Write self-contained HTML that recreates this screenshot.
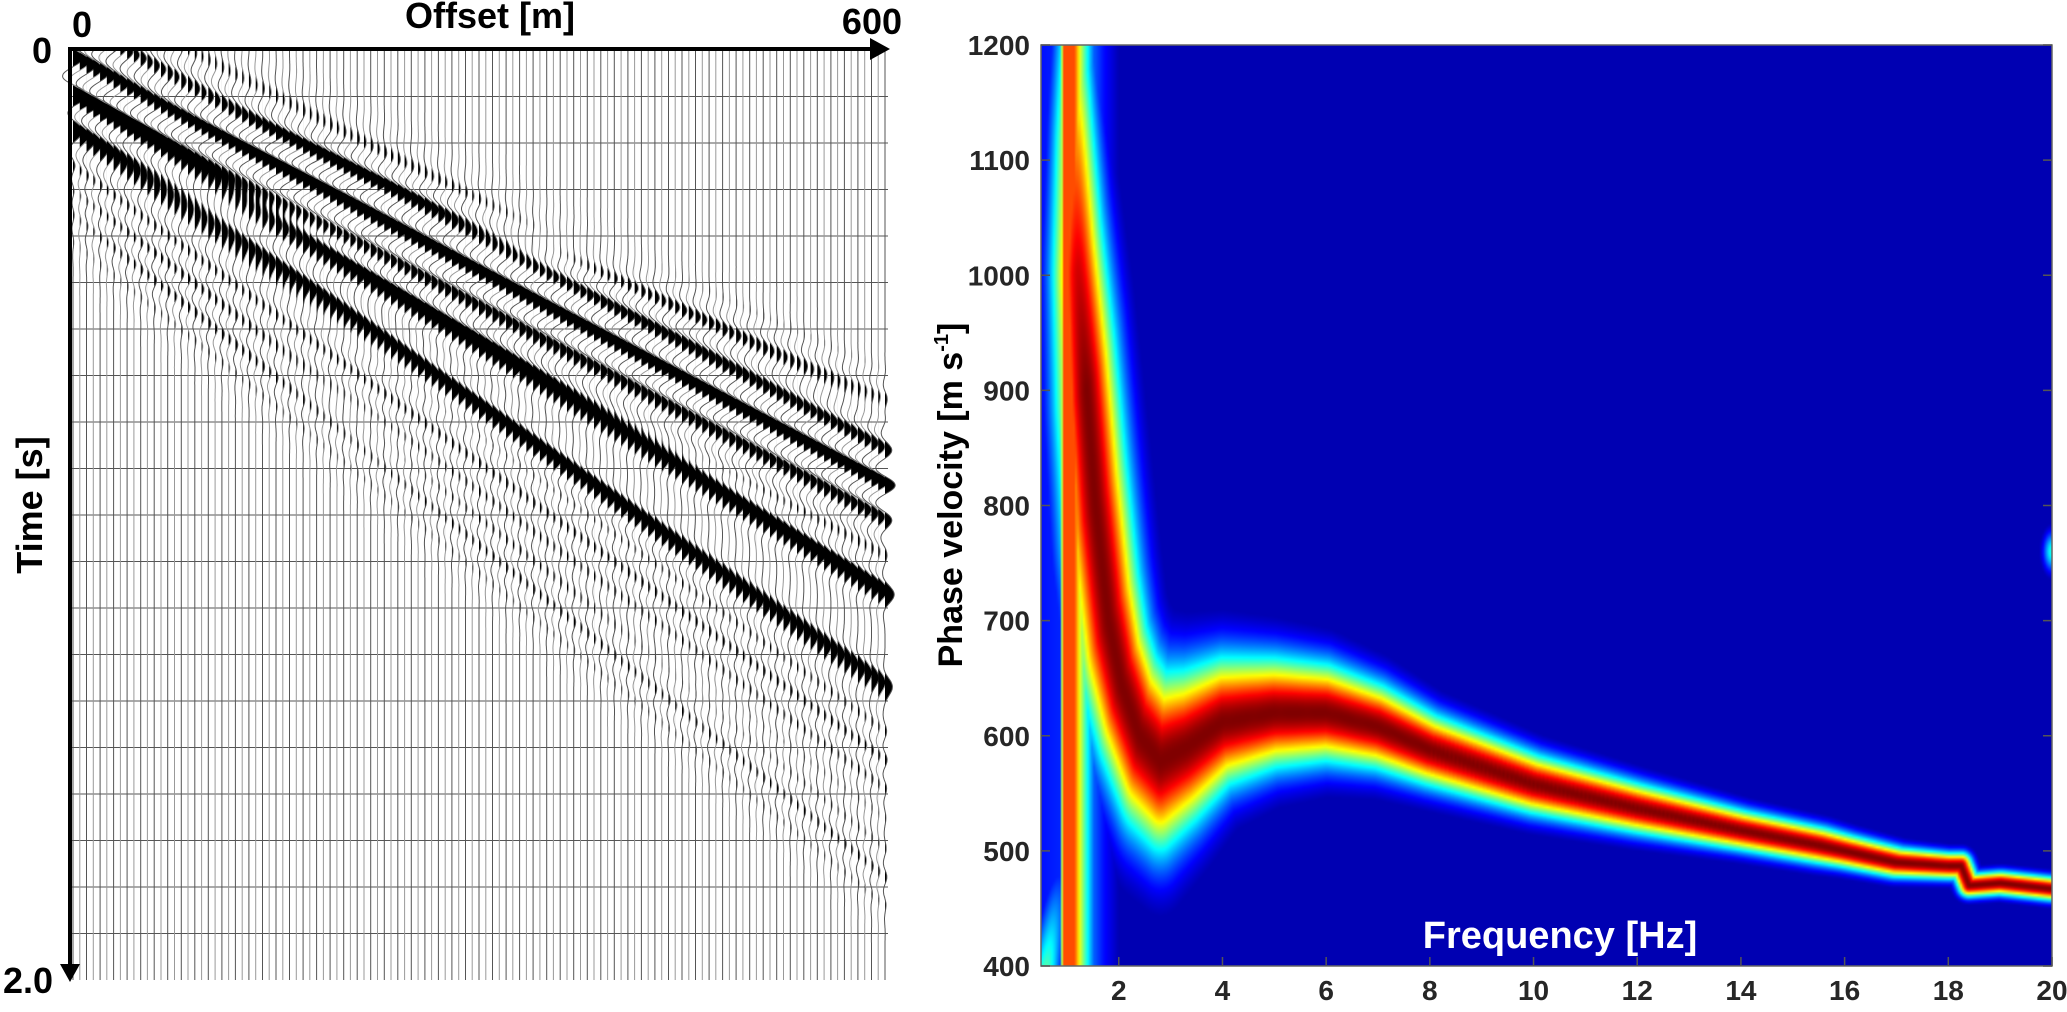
<!DOCTYPE html>
<html><head><meta charset="utf-8">
<style>
html,body{margin:0;padding:0;background:#fff;}
body{width:2067px;height:1012px;position:relative;overflow:hidden;font-family:"Liberation Sans",Arial,sans-serif;}
svg{position:absolute;left:0;top:0;}
canvas{position:absolute;}
</style></head>
<body>
<svg id="seis" width="2067" height="1012" viewBox="0 0 2067 1012"></svg>
<canvas id="disp" width="506" height="461" style="left:1041px;top:45px;width:1011px;height:921px;"></canvas>
<svg id="axes2" width="2067" height="1012" viewBox="0 0 2067 1012"></svg>
<script>
// ---------- Seismogram data ----------
const offsets = []; for (let i = 0; i <= 120; i++) offsets.push(i * 5);
const eventT0   = [0.00, 0.02, 0.10, 0.17, 0.25, 0.35];
const eventVel  = [800, 655, 560, 500, 470, 420];
const eventAmp  = [0.5, 1.7, 1.5, 1.3, 0.35, 0.3];
const eventSig  = [0.05, 0.12, 0.04, 0.04, 0.12, 0.08];
const eventFreq = [14, 13, 8, 8, 16, 16];
const timeTicks = ["0", "2.0"];
const offsetTicks = ["0", "600"];

// ---------- Dispersion data ----------
const freqTicks = [2,4,6,8,10,12,14,16,18,20];
const velTicks = [400,500,600,700,800,900,1000,1100,1200];
const ridgeFreq = [1.12, 1.15, 1.22, 1.38, 1.55, 1.8, 2.05, 2.4, 2.8, 3.3, 4.0, 5.0, 6.0, 7.0, 8.0, 10, 12, 14, 15.5, 16, 17, 18, 18.25, 18.4, 19, 20];
const ridgeVel  = [1200, 1100, 1000, 900, 800, 700, 645, 600, 578, 590, 612, 620, 620, 608, 588, 558, 537, 518, 505, 500, 490, 487, 487, 470, 472, 467];
const ridgeSigV = [80, 80, 80, 80, 80, 70, 60, 58, 55, 48, 40, 34, 30, 26, 22, 18, 15, 12, 11, 10, 9, 8, 8, 7, 7, 7];
const ridgeSigF = [0.25, 0.3, 0.36, 0.42, 0.45, 0.45, 0.42, 0.4, 0.4, 0.4, 0.35, 0.3, 0.3, 0.3, 0.3, 0.3, 0.3, 0.3, 0.3, 0.3, 0.3, 0.2, 0.15, 0.15, 0.3, 0.3];
const ridgeAmp  = [0.5, 0.75, 0.92, 1, 1, 1, 1, 1, 1, 1, 1, 1, 1, 1, 1, 1, 1, 1, 1, 1, 1, 1, 1, 1, 1, 1];
const stripeFreq = [0.5, 0.88, 0.92, 1.15, 1.25, 1.38, 1.52, 1.7, 2.0];
const stripeVal  = [0.14, 0.16, 0.8, 0.8, 0.6, 0.4, 0.22, 0.14, 0.05];

const NS = "http://www.w3.org/2000/svg";
function mk(tag, attrs, parent){ const e = document.createElementNS(NS, tag); for (const k in attrs) e.setAttribute(k, attrs[k]); parent.appendChild(e); return e; }

// ---------- Left panel ----------
const seis = document.getElementById('seis');
const LX0 = 73, LX1 = 885, LY0 = 50, LY1 = 980, TMAX = 2.0, XMAX = 600;
const xS = o => LX0 + (o / XMAX) * (LX1 - LX0);
const yS = t => LY0 + (t / TMAX) * (LY1 - LY0);

for (let k = 1; k < 20; k++) {
  const g = mk('line', {x1:70, x2:888, y1:yS(k*0.1), y2:yS(k*0.1), stroke:'#555', 'stroke-width':1}, seis);
  
  
}
function sig(o, t){
  let s = 0;
  for (let k = 0; k < eventT0.length; k++) {
    const tau = t - (eventT0[k] + o / eventVel[k]);
    const z = tau / eventSig[k];
    if (Math.abs(z) > 4) continue;
    s += eventAmp[k] * Math.exp(-z*z) * Math.cos(2*Math.PI*eventFreq[k]*tau);
  }
  return s;
}
const GAIN = 6, CLIP = 12;
offsets.forEach((o, i) => {
  const bx = xS(o);
  let line = '', fill = '';
  for (let y = LY0; y <= LY1; y += 1) {
    const t = (y - LY0) / (LY1 - LY0) * TMAX;
    let d = sig(o, t) * GAIN; d = Math.max(-CLIP, Math.min(CLIP, d));
    line += (y === LY0 ? 'M' : 'L') + (bx + d).toFixed(1) + ' ' + y + ' ';
    fill += (y === LY0 ? 'M' + bx + ' ' + y + ' L' : 'L') + (bx + Math.max(0, d)).toFixed(1) + ' ' + y + ' ';
  }
  fill += 'L' + bx + ' ' + LY1 + ' Z';
  const f = mk('path', {d: fill, fill: '#000', stroke: 'none'}, seis);
  
  
  const l = mk('path', {d: line, fill: 'none', stroke: i % 2 ? '#999' : '#555', 'stroke-width': 1}, seis);
  
  
});
const ax1 = mk('line', {x1:68, y1:49, x2:872, y2:49, stroke:'#000', 'stroke-width':4}, seis);


const ar1 = mk('polygon', {points:'870,38 890,49 870,60', fill:'#000'}, seis);


const ax2 = mk('line', {x1:70, y1:47, x2:70, y2:966, stroke:'#000', 'stroke-width':4}, seis);


const ar2 = mk('polygon', {points:'60,964 80,964 70,982', fill:'#000'}, seis);


function txt(parent, s, x, y, size, anchor, fill, name, rot){
  const e = mk('text', {x:x, y:y, 'font-size':size, 'font-weight':'bold', 'text-anchor':anchor, fill:fill, 'font-family':'"Liberation Sans", Arial, sans-serif'}, parent);
  if (rot) e.setAttribute('transform', 'rotate(-90 ' + x + ' ' + y + ')');
  e.textContent = s;
  
  
  return e;
}
txt(seis, offsetTicks[0], 72, 37, 36, 'start', '#000', 'offset-tick-0');
txt(seis, offsetTicks[1], 902, 34, 36, 'end', '#000', 'offset-tick-600');
txt(seis, timeTicks[0], 52, 63, 36, 'end', '#000', 'time-tick-0');
txt(seis, timeTicks[1], 53, 993, 36, 'end', '#000', 'time-tick-2');
txt(seis, 'Offset [m]', 490, 28, 36, 'middle', '#000', 'x-axis-title');
txt(seis, 'Time [s]', 42, 505, 36, 'middle', '#000', 'y-axis-title', true);

// ---------- Right panel ----------
const RX0 = 1041, RX1 = 2052, RY0 = 45, RY1 = 966, FMIN = 0.5, FMAX = 20, VMIN = 400, VMAX = 1200;
const fS = f => RX0 + (f - FMIN) / (FMAX - FMIN) * (RX1 - RX0);
const vS = v => RY1 - (v - VMIN) / (VMAX - VMIN) * (RY1 - RY0);
function interp(xs, ys, x){
  if (x <= xs[0]) return ys[0];
  if (x >= xs[xs.length-1]) return ys[ys.length-1];
  for (let i = 1; i < xs.length; i++) if (x <= xs[i]) { const r = (x - xs[i-1]) / (xs[i] - xs[i-1]); return ys[i-1] + r * (ys[i] - ys[i-1]); }
}
function jet(x){
  const c = v => Math.max(0, Math.min(1, v));
  return [c(1.5 - Math.abs(4*x - 3)), c(1.5 - Math.abs(4*x - 2)), c(1.5 - Math.abs(4*x - 1))];
}
const SF = [], SV = [], SSF = [], SSV = [], SA = [];
for (let i = 0; i < ridgeFreq.length - 1; i++) {
  const n = 24;
  for (let j = 0; j < n; j++) {
    const r = j / n;
    SF.push(ridgeFreq[i] + r * (ridgeFreq[i+1] - ridgeFreq[i]));
    SV.push(ridgeVel[i] + r * (ridgeVel[i+1] - ridgeVel[i]));
    SSF.push(ridgeSigF[i] + r * (ridgeSigF[i+1] - ridgeSigF[i]));
    SSV.push(ridgeSigV[i] + r * (ridgeSigV[i+1] - ridgeSigV[i]));
    SA.push(ridgeAmp[i] + r * (ridgeAmp[i+1] - ridgeAmp[i]));
  }
}
SF.push(ridgeFreq[ridgeFreq.length-1]); SV.push(ridgeVel[ridgeVel.length-1]);
SSF.push(ridgeSigF[ridgeSigF.length-1]); SSV.push(ridgeSigV[ridgeSigV.length-1]); SA.push(ridgeAmp[ridgeAmp.length-1]);

const cv = document.getElementById('disp'), ctx = cv.getContext('2d');
const W = cv.width, H = cv.height, img = ctx.createImageData(W, H);
for (let py = 0; py < H; py++) {
  const v = VMAX - (py + 0.5) / H * (VMAX - VMIN);
  for (let px = 0; px < W; px++) {
    const f = FMIN + (px + 0.5) / W * (FMAX - FMIN);
    let best = 0;
    for (let s = 0; s < SF.length; s++) {
      const a = (f - SF[s]) / SSF[s];
      if (a > 3 || a < -3) continue;
      const b = (v - SV[s]) / SSV[s];
      const d2 = a*a + b*b;
      if (d2 < 9) { const val = SA[s] * Math.exp(-0.5 * d2); if (val > best) best = val; }
    }
    let I = Math.max(0.02, best);
    I = Math.max(I, interp(stripeFreq, stripeVal, f));
    if (v < 520) I = Math.max(I, 0.45 * Math.exp(-0.5 * Math.pow((f - (0.6 + (v - 400) / 300)) / 0.2, 2)) * (520 - v) / 120);
    I = Math.max(I, 0.4 * Math.exp(-0.5 * (Math.pow((f - 20) / 0.12, 2) + Math.pow((v - 760) / 12, 2))));
    const c = jet(I), k = (py * W + px) * 4;
    img.data[k] = c[0]*255; img.data[k+1] = c[1]*255; img.data[k+2] = c[2]*255; img.data[k+3] = 255;
  }
}
ctx.putImageData(img, 0, 0);

const a2 = document.getElementById('axes2');
const frame = mk('rect', {x:RX0, y:RY0, width:RX1-RX0, height:RY1-RY0, fill:'none', stroke:'#666', 'stroke-width':1.5}, a2);


freqTicks.forEach(f => {
  const x = fS(f);
  const t = mk('line', {x1:x, x2:x, y1:RY1, y2:RY1-9, stroke:'#555', 'stroke-width':1.5}, a2);
  
  
  txt(a2, String(f), x, 1000, 28, 'middle', '#262626', 'x-tick-label');
});
velTicks.forEach(v => {
  const y = vS(v);
  const t = mk('line', {x1:RX0, x2:RX0+9, y1:y, y2:y, stroke:'#555', 'stroke-width':1.5}, a2);
  
  
  const t2 = mk('line', {x1:RX1, x2:RX1-9, y1:y, y2:y, stroke:'#555', 'stroke-width':1.5}, a2);
  
  
  txt(a2, String(v), 1030, y + 10, 28, 'end', '#262626', 'y-tick-label');
});
txt(a2, 'Frequency [Hz]', 1560, 948, 38, 'middle', '#fff', 'x-axis-title');
const yl = txt(a2, 'Phase velocity [m s', 962, 495, 34, 'middle', '#000', 'y-axis-title', true);
const sup = mk('tspan', {'font-size':20, dy:-14}, yl); sup.textContent = '-1';


const cl = mk('tspan', {dy:14}, yl); cl.textContent = ']';


</script>
</body></html>
